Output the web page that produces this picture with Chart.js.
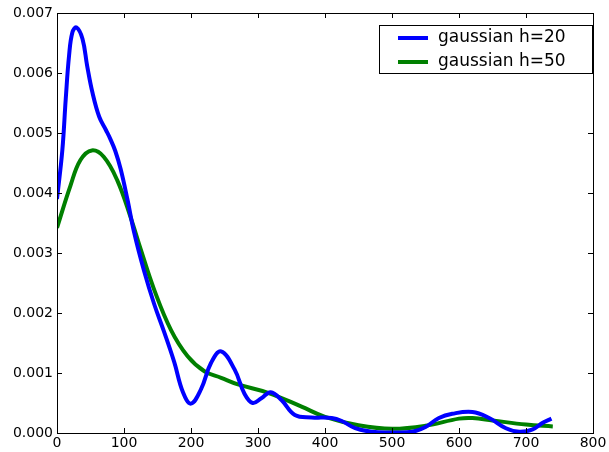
<!DOCTYPE html>
<html>
<head>
<meta charset="utf-8">
<script src="https://cdn.jsdelivr.net/npm/chart.js@4"></script>
<style>
  html, body { margin: 0; padding: 0; background: #fff; }
  #wrap { width: 609px; height: 452px; }
</style>
</head>
<body>
<div id="wrap"><canvas id="kdeChart" width="609" height="452"></canvas></div>
<script>
// values
const xH20 = [0, 8, 13, 18, 23, 29, 38, 45, 53, 63, 73, 80, 87, 95, 105, 115, 130, 145, 160, 175, 188,
              200, 215, 230, 245, 265, 280, 292, 305, 319, 335, 355, 380, 410, 425, 445, 470,
              500, 530, 550, 570, 590, 620, 645, 670, 690, 710, 725, 738];
const yH20 = [0.00390, 0.00472, 0.00556, 0.00629, 0.00668, 0.00676, 0.00657, 0.00612, 0.00567, 0.00527,
              0.00505, 0.00489, 0.00470, 0.00440, 0.00390, 0.00335, 0.00270, 0.00215, 0.00168, 0.00118, 0.00068,
              0.00049, 0.00073, 0.00117, 0.00136, 0.00106, 0.00065, 0.00050, 0.00058, 0.00068, 0.00055,
              0.00030, 0.00026, 0.00025, 0.00020, 0.00008, 0.00002,
              0.00001, 0.00002, 0.00010, 0.00025, 0.00032, 0.00035, 0.00025, 0.00008, 0.00002,
              0.00006, 0.00017, 0.00024];

const xH50 = [0, 20, 35, 52, 70, 90, 110, 125, 145, 170, 195, 220, 245, 270, 315, 365, 400,
              450, 500, 550, 600, 620, 650, 700, 740];
const yH50 = [0.00342, 0.00412, 0.00455, 0.00471, 0.00460, 0.00421, 0.00359, 0.00306, 0.00239,
              0.00172, 0.00128, 0.00103, 0.00092, 0.00081, 0.00067, 0.00044, 0.00027,
              0.00013, 0.00007, 0.00012, 0.00024, 0.00025, 0.00021, 0.00014, 0.00011];

const seriesLabels = ['gaussian h=20', 'gaussian h=50'];
const seriesColors = ['#0000ff', '#008000'];

const FONT = '"DejaVu Sans", sans-serif';

function toPoints(xs, ys) {
    return xs.map((x, i) => ({ x: x, y: ys[i] }));
}

// box, inward ticks on all sides, legend
const frame = {
    id: 'frame',
    afterDatasetsDraw(chart) {
        const ctx = chart.ctx;
        const a = chart.chartArea;
        const xs = chart.scales.x;
        const ys = chart.scales.y;
        ctx.save();
        ctx.strokeStyle = '#000';
        ctx.lineWidth = 1;
        ctx.beginPath();
        for (const t of xs.ticks) {
            const px = Math.round(xs.getPixelForValue(t.value)) + 0.5;
            ctx.moveTo(px, a.bottom); ctx.lineTo(px, a.bottom - 5);
            ctx.moveTo(px, a.top); ctx.lineTo(px, a.top + 5);
        }
        for (const t of ys.ticks) {
            const py = Math.round(ys.getPixelForValue(t.value)) + 0.5;
            ctx.moveTo(a.left, py); ctx.lineTo(a.left + 5, py);
            ctx.moveTo(a.right, py); ctx.lineTo(a.right - 5, py);
        }
        ctx.stroke();
        ctx.strokeRect(Math.round(a.left) + 0.5, Math.round(a.top) + 0.5,
                       Math.round(a.right - a.left), Math.round(a.bottom - a.top));

        // legend
        const lx = 379.5, ly = 25.5, lw = 213, lh = 48;
        ctx.fillStyle = '#fff';
        ctx.fillRect(lx, ly, lw, lh);
        ctx.strokeRect(lx, ly, lw, lh);
        ctx.font = '17px ' + FONT;
        ctx.textBaseline = 'middle';
        chart.data.datasets.forEach((ds, i) => {
            const yy = 38 + i * 24;
            ctx.strokeStyle = ds.borderColor;
            ctx.lineWidth = 4;
            ctx.beginPath();
            ctx.moveTo(398, yy); ctx.lineTo(428, yy);
            ctx.stroke();
            ctx.fillStyle = '#000';
            ctx.fillText(ds.label, 438, yy);
        });
        ctx.restore();
    }
};

new Chart(document.getElementById('kdeChart').getContext('2d'), {
    type: 'line',
    data: {
        datasets: [0, 1].map(i => ({
            label: seriesLabels[i],
            data: i === 0 ? toPoints(xH20, yH20) : toPoints(xH50, yH50),
            borderColor: seriesColors[i],
            borderWidth: 4,
            pointRadius: 0,
            fill: false,
            tension: 0.4
        }))
    },
    options: {
        responsive: false,
        animation: false,
        layout: { padding: { top: 13, right: 16, left: 0, bottom: 0 } },
        plugins: { legend: { display: false }, tooltip: { enabled: false } },
        scales: {
            x: {
                type: 'linear',
                min: 0, max: 800,
                grid: { display: false, drawTicks: false },
                border: { display: false },
                ticks: {
                    stepSize: 100, padding: 2, color: '#000', maxRotation: 0,
                    font: { family: FONT, size: 14 }
                },
                afterFit(scale) { scale.height = 19; }
            },
            y: {
                min: 0, max: 0.007,
                grid: { display: false, drawTicks: false },
                border: { display: false },
                ticks: {
                    stepSize: 0.001, padding: 4, color: '#000',
                    font: { family: FONT, size: 14 },
                    callback: v => v.toFixed(3)
                },
                afterFit(scale) { scale.width = 57; }
            }
        }
    },
    plugins: [frame]
});
</script>
</body>
</html>
